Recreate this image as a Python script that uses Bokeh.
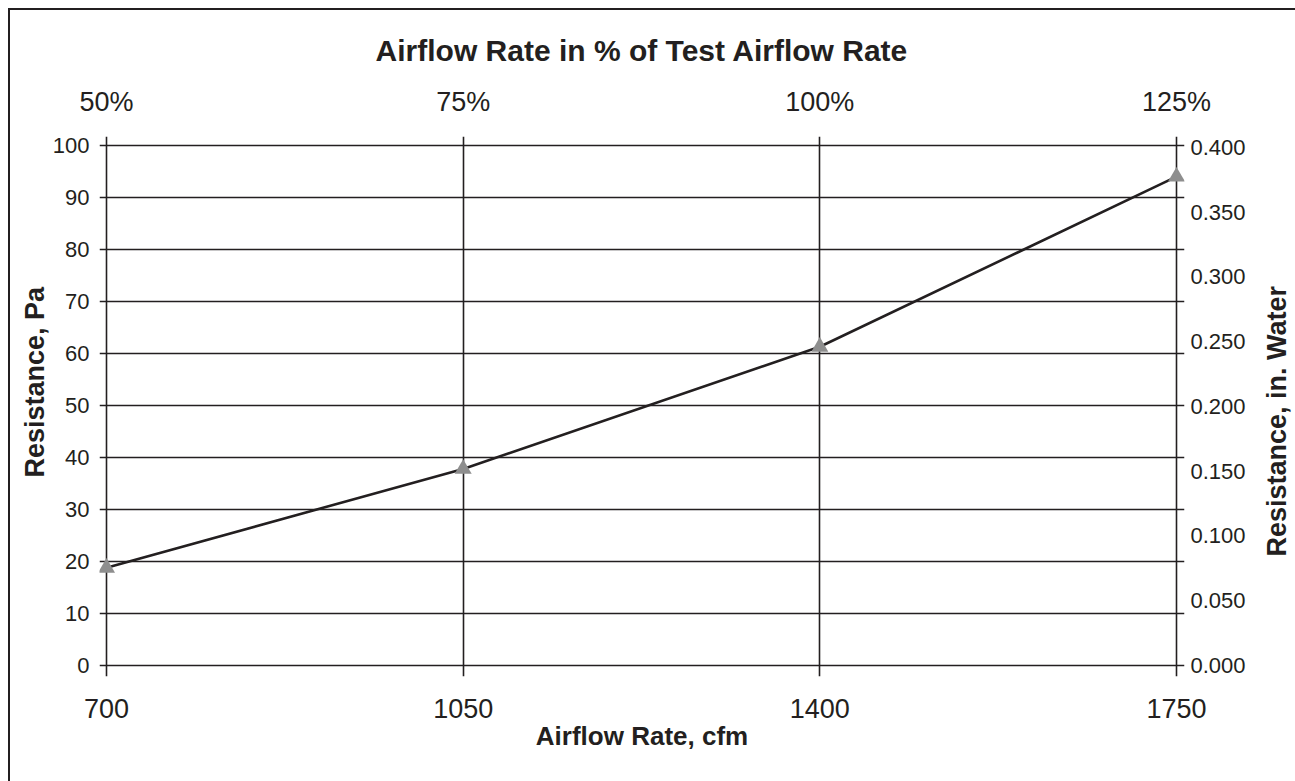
from bokeh.plotting import figure
from bokeh.models import Range1d, LinearAxis, FixedTicker, PrintfTickFormatter, Title, Div
from bokeh.layouts import row
from bokeh.embed import file_html
from bokeh.resources import INLINE

# ---- data ----
airflow_cfm = [700, 1050, 1400, 1750]
airflow_pct_labels = ["50%", "75%", "100%", "125%"]
resistance_pa = [18.8, 37.8, 61.3, 94.0]
pa_ticks = [0, 10, 20, 30, 40, 50, 60, 70, 80, 90, 100]
inwater_ticks = [0.000, 0.050, 0.100, 0.150, 0.200, 0.250, 0.300, 0.350, 0.400]
PA_PER_INWATER = 249.09

DARK = "#231f20"
FONT = "Liberation Sans"

# layout (pixels): the plotted grid spans 1070 x 520 px; grid lines overhang as tick stubs
W, H = 1245, 761
GRID_W, GRID_H = 1070, 520
PAD_L, PAD_R, PAD_T, PAD_B = 7, 8, 9, 11
cfm_px = (airflow_cfm[-1] - airflow_cfm[0]) / GRID_W
pa_px = (pa_ticks[-1] - pa_ticks[0]) / GRID_H
x0 = airflow_cfm[0] - PAD_L * cfm_px
x1 = airflow_cfm[-1] + PAD_R * cfm_px
y0 = pa_ticks[0] - PAD_B * pa_px
y1 = pa_ticks[-1] + PAD_T * pa_px

p = figure(width=W, height=H, output_backend="svg", toolbar_location=None,
           x_range=Range1d(x0, x1), y_range=Range1d(y0, y1),
           min_border_left=89, min_border_right=71, min_border_top=126, min_border_bottom=95,
           background_fill_color="white", border_fill_color="white",
           outline_line_color=None)


def style_axis(ax, label_size, title_size, standoff, title_standoff):
    ax.major_tick_line_color = None
    ax.minor_tick_line_color = None
    ax.major_tick_out = 0
    ax.major_tick_in = 0
    ax.minor_tick_out = 0
    ax.minor_tick_in = 0
    ax.axis_line_color = None
    ax.major_label_text_font = FONT
    ax.major_label_text_font_size = label_size
    ax.major_label_text_color = DARK
    ax.major_label_standoff = standoff
    ax.axis_label_text_font = FONT
    ax.axis_label_text_font_size = title_size
    ax.axis_label_text_font_style = "bold"
    ax.axis_label_text_color = DARK
    ax.axis_label_standoff = title_standoff


# bottom axis
xb = p.xaxis[0]
xb.ticker = FixedTicker(ticks=airflow_cfm)
xb.axis_label = "Airflow Rate, cfm"
style_axis(xb, "27px", "26px", 22, 0)

# top axis
xt = LinearAxis(ticker=FixedTicker(ticks=airflow_cfm),
                major_label_overrides={c: l for c, l in zip(airflow_cfm, airflow_pct_labels)},
                axis_label="Airflow Rate in % of Test Airflow Rate")
style_axis(xt, "27px", "30px", 20, 17)
p.add_layout(xt, "above")

# left axis
yl = p.yaxis[0]
yl.ticker = FixedTicker(ticks=pa_ticks)
style_axis(yl, "22px", "27px", 10, 0)

# left axis title (sits a little above the middle in the original)
p.add_layout(Title(text="Resistance, Pa", align="left", offset=199, standoff=0,
                   text_font=FONT, text_font_size="27px", text_font_style="bold",
                   text_color=DARK), "left")

# right axis (inches of water)
p.extra_y_ranges = {"inw": Range1d(y0 / PA_PER_INWATER, y1 / PA_PER_INWATER)}
yr = LinearAxis(y_range_name="inw", ticker=FixedTicker(ticks=inwater_ticks),
                formatter=PrintfTickFormatter(format="%.3f"))
style_axis(yr, "22px", "27px", 6, 0)
p.add_layout(yr, "right")

# grids
p.xgrid.ticker = FixedTicker(ticks=airflow_cfm)
p.ygrid.ticker = FixedTicker(ticks=pa_ticks)
for g in (p.xgrid[0], p.ygrid[0]):
    g.grid_line_color = DARK
    g.grid_line_width = 1.6
    g.grid_line_alpha = 1.0

# series
p.line(airflow_cfm, resistance_pa, line_color=DARK, line_width=2.6)
p.scatter(airflow_cfm, resistance_pa, marker="triangle", size=17,
          fill_color="#8e8e8e", line_color=None)

# right-hand axis title, reading bottom-to-top
right_title = Div(
    width=34, height=H,
    text=('<div style="height:%dpx;width:34px;display:flex;justify-content:center;'
          'align-items:flex-start;">'
          '<span style="writing-mode:vertical-rl;transform:rotate(180deg);margin-top:271px;'
          "font-family:'Liberation Sans',Arial,sans-serif;font-size:27px;font-weight:bold;"
          'line-height:1;white-space:nowrap;color:#231f20;">Resistance, in. Water</span></div>') % H)

layout = row(p, right_title,
             styles={"border-left": "2px solid #231f20", "border-top": "2px solid #231f20",
                     "margin-left": "8px", "margin-top": "8px"})

open("out.html", "w").write(file_html(layout, INLINE))
